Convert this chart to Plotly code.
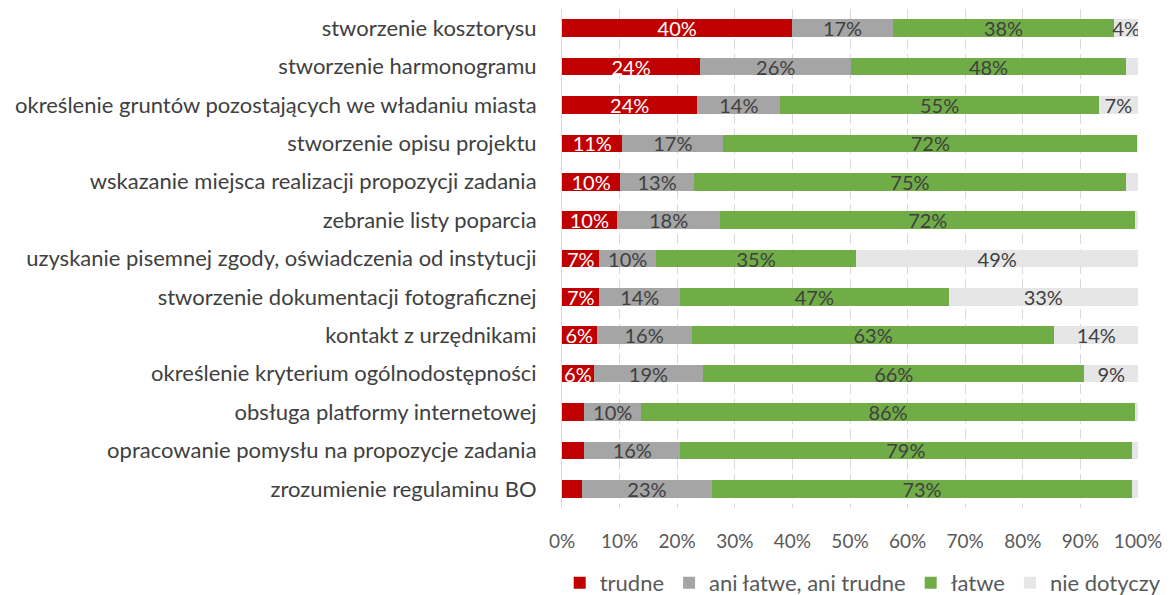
import plotly.graph_objects as go

categories = [
    "stworzenie kosztorysu",
    "stworzenie harmonogramu",
    "określenie gruntów pozostających we władaniu miasta",
    "stworzenie opisu projektu",
    "wskazanie miejsca realizacji propozycji zadania",
    "zebranie listy poparcia",
    "uzyskanie pisemnej zgody, oświadczenia od instytucji",
    "stworzenie dokumentacji fotograficznej",
    "kontakt z urzędnikami",
    "określenie kryterium ogólnodostępności",
    "obsługa platformy internetowej",
    "opracowanie pomysłu na propozycje zadania",
    "zrozumienie regulaminu BO",
]

trudne = [40.0, 24.0, 23.5, 10.5, 10.1, 9.5, 6.5, 6.5, 6.0, 5.5, 3.9, 3.9, 3.4]
ani = [17.4, 26.2, 14.4, 17.5, 12.8, 18.0, 9.8, 14.0, 16.5, 19.0, 9.8, 16.6, 22.7]
latwe = [38.5, 47.7, 55.3, 71.9, 75.0, 72.0, 34.8, 46.6, 63.0, 66.2, 85.8, 78.4, 72.8]
nie = [4.1, 2.1, 6.8, 0.1, 2.1, 0.5, 48.9, 32.9, 14.5, 9.3, 0.5, 1.1, 1.1]

trudne_lbl = ["40%", "24%", "24%", "11%", "10%", "10%", "7%", "7%", "6%", "6%", "", "", ""]
ani_lbl = ["17%", "26%", "14%", "17%", "13%", "18%", "10%", "14%", "16%", "19%", "10%", "16%", "23%"]
latwe_lbl = ["38%", "48%", "55%", "72%", "75%", "72%", "35%", "47%", "63%", "66%", "86%", "79%", "73%"]
nie_lbl = ["4%", "", "7%", "", "", "", "49%", "33%", "14%", "9%", "", "", ""]

series = [
    ("trudne", trudne, trudne_lbl, "#C00000", "#FFFFFF"),
    ("ani łatwe, ani trudne", ani, ani_lbl, "#A5A5A5", "#404040"),
    ("łatwe", latwe, latwe_lbl, "#70AD47", "#404040"),
    ("nie dotyczy", nie, nie_lbl, "#E6E6E6", "#404040"),
]

FONT = "Lato, Carlito, Calibri, sans-serif"

fig = go.Figure()
for name, vals, lbls, color, tcolor in series:
    fig.add_trace(go.Bar(
        y=categories, x=vals, name=name, orientation="h",
        marker=dict(color=color, line=dict(width=0)),
        text=lbls, textposition="inside", insidetextanchor="middle",
        textfont=dict(color=tcolor, size=20, family=FONT),
        hoverinfo="skip",
    ))

fig.update_layout(
    barmode="stack",
    bargap=0.54,
    width=1166, height=587,
    margin=dict(l=554, r=36, t=1, b=87, autoexpand=False),
    paper_bgcolor="white", plot_bgcolor="white",
    font=dict(family=FONT, size=20, color="#595959"),
    uniformtext=dict(minsize=20, mode="show"),
    legend=dict(orientation="h", x=-0.004, xanchor="left", y=-0.15, yanchor="middle",
                font=dict(size=22, color="#595959", family=FONT), traceorder="normal",
                itemclick=False, itemdoubleclick=False),
    showlegend=True,
)
fig.update_xaxes(
    range=[0, 100], dtick=10, ticksuffix="%",
    showgrid=True, gridcolor="#D9D9D9", gridwidth=1, griddash="10px,5px",
    zeroline=False, showline=False, ticks="", ticklabelstandoff=20,
    tickfont=dict(size=19, color="#595959", family=FONT),
    fixedrange=True,
)
fig.update_yaxes(
    autorange="reversed", showgrid=False, showline=True, linecolor="#D9D9D9", linewidth=1,
    ticks="", ticklabelstandoff=20,
    tickfont=dict(size=22, color="#404040", family=FONT),
    fixedrange=True,
)
fig.write_html("out.html")
